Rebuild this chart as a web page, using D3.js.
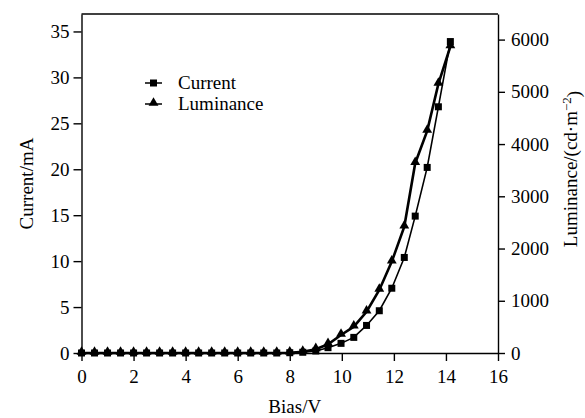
<!DOCTYPE html>
<html lang="en">
<head>
    <meta charset="UTF-8">
    <title>Bias vs Current / Luminance</title>
    <script src="https://cdn.jsdelivr.net/npm/d3@7"></script>
    <style>
        body { margin: 0; background: #fff; }
        svg { display: block; }
        text { font-family: "Liberation Serif", "Times New Roman", serif; fill: #000; }
        .axis path, .axis line { stroke: #000; stroke-width: 1.4px; }
        .axis text { font-size: 19px; font-family: "Liberation Serif", serif; }
    </style>
</head>
<body>
<script>

    /******* DATA *******/
    const bias = [0, 0.5, 1, 1.5, 2, 2.5, 3, 3.5, 4, 4.5, 5, 5.5, 6, 6.5, 7, 7.5, 8, 8.5, 9,
        9.47, 9.97, 10.46, 10.95, 11.44, 11.92, 12.4, 12.82, 13.28, 13.71, 14.17];
    const current = [0, 0, 0, 0, 0, 0, 0, 0, 0, 0, 0, 0, 0, 0, 0, 0, 0.03, 0.08, 0.22,
        0.58, 1.05, 1.7, 3.0, 4.6, 7.05, 10.4, 14.9, 20.2, 26.8, 33.9];
    const luminance = [0, 0, 0, 0, 0, 0, 0, 0, 0, 0, 0, 0, 0, 0, 0, 0, 5, 22, 71,
        167, 345, 504, 790, 1207, 1750, 2420, 3634, 4253, 5153, 5868];
    const xTicks = [0, 2, 4, 6, 8, 10, 12, 14, 16];
    const currentTicks = [0, 5, 10, 15, 20, 25, 30, 35];
    const lumTicks = [0, 1000, 2000, 3000, 4000, 5000, 6000];

    /******* SVG *******/
    const width = 585, height = 418;
    const margins = { top: 14, bottom: 65, left: 81.5, right: 87 };
    const svg = d3.select("body").append("svg")
        .attr("width", width)
        .attr("height", height);

    // Scales
    const xScale = d3.scaleLinear().domain([0, 16])
        .range([margins.left, width - margins.right]);
    const yLeft = d3.scaleLinear().domain([0, 36.9])
        .range([height - margins.bottom, margins.top]);
    const yRight = d3.scaleLinear().domain([0, 6490])
        .range([height - margins.bottom, margins.top]);

    // Frame top line
    svg.append("line")
        .attr("x1", xScale(0)).attr("x2", xScale(16))
        .attr("y1", margins.top).attr("y2", margins.top)
        .attr("stroke", "#000").attr("stroke-width", 1.4);

    // Axes
    svg.append("g").attr("class", "axis")
        .attr("transform", `translate(0,${height - margins.bottom})`)
        .call(d3.axisBottom(xScale).tickValues(xTicks).tickSize(8).tickSizeOuter(0).tickPadding(9));
    svg.append("g").attr("class", "axis")
        .attr("transform", `translate(${margins.left},0)`)
        .call(d3.axisLeft(yLeft).tickValues(currentTicks).tickSize(8).tickSizeOuter(0).tickPadding(4));
    svg.append("g").attr("class", "axis")
        .attr("transform", `translate(${width - margins.right},0)`)
        .call(d3.axisRight(yRight).tickValues(lumTicks).tickFormat(d3.format("d"))
            .tickSize(7).tickSizeOuter(0).tickPadding(6));

    // Lines
    const currentData = bias.map((b, i) => ({ x: b, y: current[i] }));
    const lumData = bias.map((b, i) => ({ x: b, y: luminance[i] }));

    const lineCurrent = d3.line().x(d => xScale(d.x)).y(d => yLeft(d.y));
    const lineLum = d3.line().x(d => xScale(d.x)).y(d => yRight(d.y));

    svg.append("path").datum(lumData)
        .attr("d", lineLum)
        .attr("fill", "none").attr("stroke", "#000").attr("stroke-width", 2.6);
    svg.append("path").datum(currentData)
        .attr("d", lineCurrent)
        .attr("fill", "none").attr("stroke", "#000").attr("stroke-width", 1.6);

    // Markers
    const triangle = d3.symbol().type(d3.symbolTriangle).size(42);
    svg.append("g").selectAll("path")
        .data(lumData).enter().append("path")
        .attr("d", triangle)
        .attr("transform", d => `translate(${xScale(d.x)},${yRight(d.y) - 1})`)
        .attr("fill", "#000");
    svg.append("g").selectAll("rect")
        .data(currentData).enter().append("rect")
        .attr("x", d => xScale(d.x) - 3.5)
        .attr("y", d => yLeft(d.y) - 3.5)
        .attr("width", 7).attr("height", 7)
        .attr("fill", "#000");

    // Legend
    const legend = [
        { name: "Current", y: 83, shape: "square" },
        { name: "Luminance", y: 104, shape: "triangle" }
    ];
    legend.forEach(l => {
        svg.append("line")
            .attr("x1", 145).attr("x2", 162)
            .attr("y1", l.y).attr("y2", l.y)
            .attr("stroke", "#000").attr("stroke-width", 1.5);
        if (l.shape === "square") {
            svg.append("rect").attr("x", 150).attr("y", l.y - 3.5)
                .attr("width", 7).attr("height", 7).attr("fill", "#000");
        } else {
            svg.append("path").attr("d", triangle)
                .attr("transform", `translate(153.5,${l.y - 1})`).attr("fill", "#000");
        }
        svg.append("text")
            .attr("x", 178).attr("y", l.y + 6)
            .style("font-size", "19px")
            .text(l.name);
    });

    // Axis titles
    svg.append("text")
        .attr("x", xScale(8) + 5).attr("y", 413)
        .attr("text-anchor", "middle")
        .style("font-size", "19px")
        .text("Bias/V");
    svg.append("text")
        .attr("transform", `translate(33,${(margins.top + height - margins.bottom) / 2}) rotate(-90)`)
        .attr("text-anchor", "middle")
        .style("font-size", "19px")
        .text("Current/mA");
    const rightTitle = svg.append("text")
        .attr("transform", `translate(577,169) rotate(-90)`)
        .attr("text-anchor", "middle")
        .style("font-size", "19px");
    rightTitle.append("tspan").text("Luminance/(cd\u00b7m");
    rightTitle.append("tspan").attr("dy", "-0.45em").style("font-size", "13px").text("\u22122");
    rightTitle.append("tspan").attr("dy", "0.45em").text(")");

</script>
</body>
</html>
